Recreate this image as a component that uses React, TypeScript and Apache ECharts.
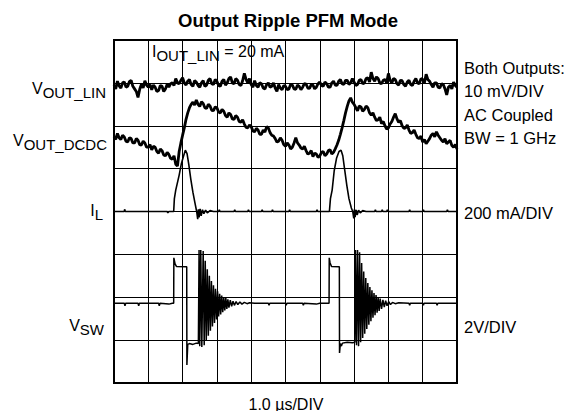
import React, { useEffect, useRef } from "react";
import * as echarts from "echarts";

// time axis: 1.0 µs/DIV, 10 divisions; vertical: 8 divisions (screen units)
const X_TICKS = [0, 1, 2, 3, 4, 5, 6, 7, 8, 9, 10];
const SAMPLE_STEP_US = 0.05;

// V_OUT_LIN trace (screen divisions), sampled every 0.05 µs
const VOUT_LIN = [
  6.95, 6.86, 7.04, 6.93, 6.88, 7.0, 7.02, 6.9, 6.92, 7.03, 7.06, 6.92, 6.86, 6.8, 6.66, 6.85, 6.97, 6.88, 7.05, 6.95,
  6.9, 6.96, 6.84, 6.95, 6.9, 6.8, 6.82, 6.94, 6.92, 6.8, 6.86, 6.97, 6.9, 6.98, 7.0, 6.94, 7.1, 7.0, 6.98, 7.06,
  7.12, 7.0, 6.95, 7.04, 7.08, 6.96, 6.92, 7.05, 7.02, 6.94, 6.9, 7.0, 7.05, 6.92, 6.95, 7.06, 7.1, 6.98, 6.96, 7.08,
  7.04, 6.94, 6.92, 7.04, 7.08, 6.95, 7.0, 7.1, 7.14, 7.0, 6.98, 7.1, 7.06, 6.96, 6.94, 7.05, 7.22, 7.08, 7.0, 7.1,
  6.96, 6.9, 7.05, 6.94, 6.9, 7.0, 6.98, 6.88, 6.86, 6.96, 7.0, 6.9, 6.92, 7.0, 6.88, 6.8, 6.96, 6.88, 6.84, 6.94,
  6.92, 6.84, 6.86, 6.96, 6.95, 6.86, 6.85, 6.95, 6.92, 6.84, 6.9, 6.98, 6.97, 6.88, 6.87, 6.96, 6.95, 6.86, 6.9, 6.98,
  7.02, 6.94, 6.92, 7.02, 6.98, 6.9, 6.9, 7.0, 7.04, 6.95, 6.94, 7.04, 7.08, 6.98, 6.96, 7.06, 7.06, 6.96, 7.0, 7.1,
  7.02, 6.94, 6.96, 7.06, 7.08, 6.98, 7.0, 7.1, 7.12, 7.02, 7.25, 7.1, 7.04, 7.14, 7.1, 7.0, 6.98, 7.06, 7.08, 7.0,
  7.22, 7.06, 7.0, 7.1, 7.08, 6.98, 6.95, 7.06, 7.05, 6.96, 6.92, 7.02, 7.06, 6.96, 6.94, 7.04, 7.1, 7.0, 6.98, 7.1,
  7.08, 7.0, 7.2, 7.08, 7.04, 6.96, 6.9, 7.0, 7.0, 6.9, 6.88, 6.98, 6.96, 6.86, 6.72, 6.9, 6.94, 6.86, 7.02, 6.94,
  6.9,
];

// V_OUT_DCDC trace (screen divisions), sampled every 0.05 µs
const VOUT_DCDC = [
  5.75, 5.68, 5.82, 5.72, 5.68, 5.78, 5.74, 5.64, 5.62, 5.72, 5.7, 5.6, 5.6, 5.7, 5.66, 5.56, 5.55, 5.64, 5.6, 5.5,
  5.5, 5.56, 5.44, 5.52, 5.5, 5.4, 5.36, 5.46, 5.42, 5.32, 5.3, 5.38, 5.33, 5.24, 5.22, 5.3, 5.1, 5.06, 5.4, 5.6,
  5.78, 5.95, 6.15, 6.3, 6.42, 6.5, 6.55, 6.48, 6.6, 6.5, 6.45, 6.56, 6.52, 6.42, 6.4, 6.5, 6.46, 6.36, 6.35, 6.44,
  6.42, 6.32, 6.3, 6.38, 6.34, 6.24, 6.2, 6.3, 6.26, 6.16, 6.15, 6.24, 6.2, 6.1, 6.08, 6.14, 6.04, 5.96, 5.95, 6.02,
  5.98, 5.88, 5.86, 5.94, 5.9, 5.8, 5.8, 5.9, 5.85, 5.98, 5.95, 5.84, 5.78, 5.76, 5.7, 5.62, 5.64, 5.72, 5.66, 5.56,
  5.52, 5.6, 5.55, 5.46, 5.5, 5.6, 5.72, 5.6, 5.55, 5.48, 5.46, 5.52, 5.42, 5.34, 5.36, 5.42, 5.28, 5.36, 5.34, 5.26,
  5.3, 5.38, 5.4, 5.3, 5.34, 5.42, 5.44, 5.34, 5.38, 5.46, 5.55, 5.66, 5.8, 5.95, 6.12, 6.3, 6.45, 6.58, 6.65, 6.55,
  6.5, 6.42, 6.35, 6.46, 6.44, 6.34, 6.38, 6.46, 6.42, 6.3, 6.25, 6.3, 6.2, 6.12, 6.14, 6.2, 6.05, 6.1, 6.0, 5.92,
  5.95, 6.04, 6.1, 6.2, 6.28, 6.16, 6.08, 6.12, 6.0, 5.94, 5.95, 6.02, 5.9, 5.82, 5.84, 5.9, 5.8, 5.72, 5.7, 5.76,
  5.62, 5.68, 5.58, 5.64, 5.7, 5.78, 5.82, 5.74, 5.86, 5.78, 5.72, 5.66, 5.62, 5.7, 5.58, 5.62, 5.66, 5.54, 5.5, 5.56,
  5.46,
];

// I_L trace [µs, div]
const IL = [
  [0, 4.0], [0.3, 4.0], [0.31, 4.05], [0.33, 4.0], [1.0, 4.0], [1.55, 4.0], [1.57, 3.97], [1.6, 4.0],
  [1.74, 4.0], [1.76, 4.3], [1.8, 4.5], [1.9, 4.85], [1.96, 5.1], [2.03, 5.3], [2.08, 5.43], [2.13, 5.35],
  [2.18, 5.1], [2.24, 4.75], [2.3, 4.45], [2.36, 4.2], [2.41, 4.0], [2.44, 3.82], [2.46, 4.05], [2.48, 3.86],
  [2.51, 4.06], [2.54, 3.9], [2.58, 4.04], [2.62, 3.95], [2.67, 4.03], [2.72, 3.97], [2.8, 4.02], [2.9, 4.0],
  [3.05, 4.0], [3.07, 4.04], [3.09, 4.0], [3.5, 4.0], [3.52, 4.04], [3.54, 4.0], [3.9, 4.0], [3.92, 4.04],
  [3.94, 4.0], [4.3, 4.0], [4.32, 4.04], [4.34, 4.0], [4.6, 4.0], [4.62, 4.04], [4.64, 4.0], [5.1, 4.0],
  [5.12, 4.04], [5.14, 4.0], [5.9, 4.0], [5.92, 4.04], [5.94, 4.0],
  [6.28, 4.0], [6.31, 4.3], [6.36, 4.5], [6.42, 4.95], [6.49, 5.25], [6.56, 5.4], [6.62, 5.43], [6.67, 5.3],
  [6.73, 4.95], [6.79, 4.6], [6.85, 4.3], [6.92, 4.08], [6.96, 4.0], [6.99, 3.84], [7.01, 4.05], [7.03, 3.87],
  [7.06, 4.04], [7.09, 3.92], [7.13, 4.03], [7.18, 3.97], [7.25, 4.02], [7.35, 4.0], [7.6, 4.0], [7.62, 4.04],
  [7.64, 4.0], [7.8, 4.0], [7.82, 4.04], [7.84, 4.0], [7.95, 4.0], [7.97, 4.04], [7.99, 4.0], [8.6, 4.0],
  [8.62, 4.04], [8.64, 4.0], [9.0, 4.0], [9.02, 4.04], [9.04, 4.0], [9.7, 4.0], [9.72, 4.04], [9.74, 4.0],
  [10, 4.0],
];

// V_SW trace [µs, div]
const VSW = [
  [0, 1.86], [0.3, 1.86], [0.32, 1.8], [0.34, 1.86], [0.7, 1.86], [0.72, 1.8], [0.74, 1.86], [1.3, 1.86],
  [1.32, 1.8], [1.34, 1.86], [1.6, 1.84], [1.7, 1.86],
  [1.74, 1.86], [1.745, 2.92], [1.78, 2.78], [1.82, 2.72], [2.12, 2.71], [2.125, 0.42], [2.15, 0.9],
  [2.2, 0.92], [2.3, 0.9], [2.4, 0.93], [2.46, 0.92],
  [2.48, 3.1], [2.5, 0.86], [2.53, 3.1], [2.56, 0.84], [2.6, 3.08], [2.63, 0.88], [2.66, 2.85], [2.69, 1.0],
  [2.72, 2.65], [2.75, 1.1], [2.78, 2.5], [2.81, 1.22], [2.84, 2.38], [2.87, 1.32], [2.9, 2.28], [2.93, 1.4],
  [2.96, 2.2], [2.99, 1.48], [3.02, 2.14], [3.05, 1.55], [3.08, 2.08], [3.11, 1.6], [3.14, 2.04], [3.17, 1.65],
  [3.2, 2.0], [3.23, 1.69], [3.26, 1.98], [3.29, 1.73], [3.32, 1.95], [3.35, 1.76], [3.39, 1.93], [3.43, 1.79],
  [3.47, 1.91], [3.51, 1.81], [3.56, 1.9], [3.61, 1.83], [3.67, 1.89], [3.73, 1.84], [3.8, 1.88], [3.88, 1.85],
  [3.95, 1.87], [4.1, 1.86], [4.5, 1.86], [4.52, 1.81], [4.54, 1.86], [5.0, 1.86], [5.02, 1.81], [5.04, 1.86],
  [5.5, 1.86], [5.52, 1.81], [5.54, 1.86], [5.9, 1.84], [6.0, 1.86],
  [6.27, 1.86], [6.275, 2.92], [6.3, 2.8], [6.34, 2.72], [6.57, 2.71], [6.575, 0.7], [6.6, 0.92], [6.63, 0.86],
  [6.66, 0.93], [6.8, 0.95], [6.95, 0.94], [7.02, 0.95],
  [7.04, 3.1], [7.07, 0.88], [7.1, 3.1], [7.13, 0.86], [7.16, 3.05], [7.19, 0.95], [7.22, 2.8], [7.25, 1.05],
  [7.28, 2.6], [7.31, 1.15], [7.34, 2.45], [7.37, 1.26], [7.4, 2.33], [7.43, 1.36], [7.46, 2.24], [7.49, 1.44],
  [7.52, 2.16], [7.55, 1.52], [7.58, 2.1], [7.61, 1.58], [7.64, 2.05], [7.67, 1.64], [7.7, 2.0], [7.73, 1.68],
  [7.76, 1.97], [7.8, 1.73], [7.84, 1.94], [7.88, 1.77], [7.92, 1.92], [7.96, 1.8], [8.01, 1.9], [8.06, 1.83],
  [8.12, 1.88], [8.2, 1.85], [8.3, 1.87], [8.6, 1.86], [8.62, 1.81], [8.64, 1.86], [9.0, 1.86], [9.02, 1.81],
  [9.04, 1.86], [9.4, 1.86], [9.42, 1.81], [9.44, 1.86], [10, 1.86],
];

const TITLE = "Output Ripple PFM Mode";
const X_LABEL = "1.0 µs/DIV";
const RIGHT_NOTES = ["Both Outputs:", "10 mV/DIV", "AC Coupled", "BW = 1 GHz"];
const IL_SCALE = "200 mA/DIV";
const VSW_SCALE = "2V/DIV";

const FONT_FAMILY = '"Liberation Sans", Arial, Helvetica, sans-serif';

function measure(text: string, size: number, weight = "normal") {
  const c = document.createElement("canvas").getContext("2d")!;
  c.font = `${weight} ${size}px ${FONT_FAMILY}`;
  return c.measureText(text).width;
}

function txt(text: string, x: number, y: number, size: number, align: string, weight = "normal") {
  return {
    type: "text",
    x,
    y,
    silent: true,
    style: {
      text,
      fill: "#000",
      fontSize: size,
      fontFamily: FONT_FAMILY,
      fontWeight: weight,
      textAlign: align,
      textVerticalAlign: "middle",
    },
  };
}

const MAIN = 16;
const SUB = 15;
const SUB_DY = 4;
const NOTE = 16.5;

function subRight(main: string, sub: string, right: number, y: number) {
  const ws = measure(sub, SUB);
  return [txt(main, right - ws, y, MAIN, "right"), txt(sub, right, y + SUB_DY, SUB, "right")];
}

export default function App() {
  const ref = useRef<HTMLDivElement>(null);
  useEffect(() => {
    if (!ref.current) return;
    const chart = echarts.init(ref.current, undefined, { renderer: "svg" });
    const wI = measure("I", MAIN);
    const wSub = measure("OUT_LIN", SUB);
    const ioutX = 152;
    const graphic: any[] = [
      txt(TITLE, 288, 20, 18.5, "center", "bold"),
      txt("I", ioutX, 51, MAIN, "left"),
      txt("OUT_LIN", ioutX + wI, 51 + SUB_DY, SUB, "left"),
      txt(" = 20 mA", ioutX + wI + wSub, 51, MAIN, "left"),
      ...subRight("V", "OUT_LIN", 106, 88),
      ...subRight("V", "OUT_DCDC", 107, 140),
      ...subRight("I", "L", 103, 210),
      ...subRight("V", "SW", 104, 325),
      ...RIGHT_NOTES.map((t, i) => txt(t, 464, 68 + i * 23.4, NOTE, "left")),
      txt(IL_SCALE, 464, 213, NOTE, "left"),
      txt(VSW_SCALE, 464, 327, NOTE, "left"),
      txt(X_LABEL, 286, 404, 16, "center"),
    ];
    const toSeries = (arr: number[]) => arr.map((v, i) => [i * SAMPLE_STEP_US, v]);
    chart.setOption({
      animation: false,
      backgroundColor: "#fff",
      grid: {
        left: 114,
        top: 40,
        width: 343,
        height: 343,
        show: true,
        borderColor: "#000",
        borderWidth: 2,
        backgroundColor: "transparent",
      },
      xAxis: {
        type: "value",
        min: X_TICKS[0],
        max: X_TICKS[X_TICKS.length - 1],
        interval: 1,
        axisLine: { show: false },
        axisTick: { show: false },
        axisLabel: { show: false },
        splitLine: { show: true, lineStyle: { color: "#000", width: 1 } },
      },
      yAxis: {
        type: "value",
        min: 0,
        max: 8,
        interval: 1,
        axisLine: { show: false },
        axisTick: { show: false },
        axisLabel: { show: false },
        splitLine: { show: true, lineStyle: { color: "#000", width: 1 } },
      },
      series: [
        { type: "line", data: toSeries(VOUT_LIN), showSymbol: false, lineStyle: { color: "#000", width: 2.8 }, silent: true },
        { type: "line", data: toSeries(VOUT_DCDC), showSymbol: false, lineStyle: { color: "#000", width: 2.8 }, silent: true },
        { type: "line", data: IL, showSymbol: false, lineStyle: { color: "#000", width: 1.6 }, silent: true },
        { type: "line", data: VSW, showSymbol: false, lineStyle: { color: "#000", width: 1.5 }, silent: true },
      ],
      graphic,
    });
    return () => chart.dispose();
  }, []);
  return <div ref={ref} style={{ position: "fixed", left: 0, top: 0, width: 576, height: 411 }} />;
}
